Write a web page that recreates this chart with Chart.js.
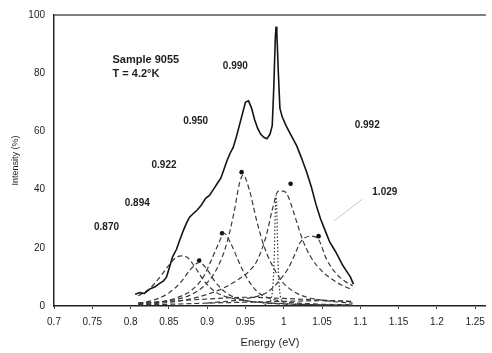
<!DOCTYPE html>
<html>
<head>
<meta charset="utf-8">
<script src="https://cdn.jsdelivr.net/npm/chart.js@4"></script>
<style>
  html, body { margin: 0; padding: 0; background: #fff; }
  #wrap { width: 492px; height: 353px; }
</style>
</head>
<body>
<div id="wrap"><canvas id="spectrum"></canvas></div>
<script>
  // tick labels
  const xTicks = [0.7, 0.75, 0.8, 0.85, 0.9, 0.95, 1, 1.05, 1.1, 1.15, 1.2, 1.25];
  const yTicks = [0, 20, 40, 60, 80, 100];

  // measured spectrum (solid)
  const mainX = [0.806, 0.812, 0.818, 0.825, 0.832, 0.838, 0.843, 0.847, 0.851, 0.855, 0.86, 0.864, 0.869, 0.873,
    0.877, 0.882, 0.887, 0.892, 0.898, 0.903, 0.908, 0.913, 0.918, 0.922, 0.926, 0.93, 0.934, 0.938, 0.942, 0.946,
    0.95, 0.954, 0.958, 0.962, 0.966, 0.97, 0.974, 0.978, 0.982, 0.985, 0.987, 0.989, 0.99, 0.991, 0.993, 0.995,
    0.998, 1.003, 1.01, 1.017, 1.023, 1.03, 1.036, 1.042, 1.048, 1.054, 1.06, 1.067, 1.072, 1.077, 1.082, 1.087, 1.091];
  const mainY = [4.0, 4.6, 4.3, 5.8, 6.6, 7.8, 8.6, 10, 13.5, 17, 19.5, 22.5, 26, 28.5,
    30.5, 31.8, 33, 34.5, 37, 38, 40, 42, 44, 47, 50, 52.5, 54.5, 58, 62, 66,
    70, 70.5, 68, 64, 61, 59, 58, 57.5, 59, 62, 75, 92, 96, 94, 80, 68,
    65, 62, 58.5, 55, 51, 46, 41, 35, 30, 26, 22, 19, 16.5, 14, 12, 10, 7.5];

  // fitted components (dashed)
  const compAx = [0.81, 0.825, 0.84, 0.85, 0.86, 0.867, 0.875, 0.885, 0.895, 0.91, 0.93, 0.96, 1.0, 1.05, 1.09];
  const compAy = [3.5, 6, 10.5, 14, 16.8, 17.2, 16.5, 13, 9, 5, 2.8, 1.5, 0.8, 0.4, 0.3];

  const compBx = [0.81, 0.83, 0.85, 0.865, 0.878, 0.89, 0.9, 0.91, 0.925, 0.945, 0.97, 1.0, 1.05, 1.09];
  const compBy = [1, 2, 4.5, 8, 12.5, 15, 12.5, 8.5, 4.5, 2.2, 1.2, 0.7, 0.4, 0.3];

  const compCx = [0.81, 0.84, 0.86, 0.88, 0.895, 0.905, 0.915, 0.922, 0.93, 0.94, 0.95, 0.965, 0.98, 1.0, 1.04, 1.09];
  const compCy = [0.8, 1.5, 2.8, 5.5, 10, 15.5, 21.5, 25, 22, 16, 10.5, 5, 2.8, 1.5, 0.7, 0.4];

  const compDx = [0.81, 0.85, 0.88, 0.9, 0.915, 0.925, 0.935, 0.942, 0.947, 0.955, 0.965, 0.975, 0.987, 1.0, 1.02, 1.05, 1.09];
  const compDy = [0.8, 1.8, 4, 8, 14, 21, 32, 42, 45, 40, 29, 20, 13, 7.8, 4, 2, 1];

  const compEx = [0.81, 0.84, 0.87, 0.9, 0.92, 0.94, 0.955, 0.965, 0.977, 0.985, 0.993, 1.0, 1.006, 1.012, 1.018, 1.025, 1.035, 1.05, 1.07, 1.09];
  const compEy = [0.5, 1, 2, 4, 6, 9, 12, 15.5, 24, 33, 39.5, 39.5, 37.5, 33, 28, 22.5, 17, 12, 8, 5.5];

  const compNx = [0.975, 0.983, 0.987, 0.99, 0.993, 0.997, 1.005];
  const compNy = [0.5, 2, 12, 38, 12, 2, 0.5];

  const compFx = [0.9, 0.95, 0.98, 0.995, 1.006, 1.015, 1.022, 1.035, 1.045, 1.056, 1.069, 1.08, 1.09];
  const compFy = [1, 2.5, 5, 9, 13, 18, 22, 24, 23, 16, 11, 8.5, 7];

  const compGx = [0.81, 0.85, 0.9, 0.95, 1.0, 1.05, 1.09];
  const compGy = [1, 1.6, 2.4, 3, 2.6, 2, 1.5];

  const compHx = [0.81, 0.85, 0.9, 0.95, 1.0, 1.05, 1.09];
  const compHy = [0.4, 0.6, 1, 1.3, 1.6, 1.8, 1.6];

  // peak markers
  const markX = [0.8896, 0.9195, 0.945, 1.009, 1.0455];
  const markY = [15.6, 25, 46, 42, 24];

  // text on the plot
  const notes = [
    { text: "Sample 9055", x: 0.7764, y: 84.7, size: 11, align: "left" },
    { text: "T = 4.2°K", x: 0.7764, y: 79.9, size: 11, align: "left" },
    { text: "0.990", x: 0.9368, y: 82.3, size: 10, align: "center" },
    { text: "0.950", x: 0.885, y: 63.6, size: 10, align: "center" },
    { text: "0.922", x: 0.8437, y: 48.3, size: 10, align: "center" },
    { text: "0.894", x: 0.8087, y: 35.4, size: 10, align: "center" },
    { text: "0.870", x: 0.7686, y: 26.9, size: 10, align: "center" },
    { text: "0.992", x: 1.109, y: 62.2, size: 10, align: "center" },
    { text: "1.029", x: 1.132, y: 39.1, size: 10, align: "center" }
  ];

  const pts = (xs, ys) => xs.map((x, i) => ({ x: x, y: ys[i] }));

  const dashed = (xs, ys) => ({
    data: pts(xs, ys),
    borderColor: "#3a3a3a",
    borderWidth: 1.2,
    borderDash: [5, 3],
    pointRadius: 0,
    cubicInterpolationMode: "monotone",
    fill: false
  });

  const notesPlugin = {
    id: "notes",
    afterDatasetsDraw(chart) {
      const { ctx, chartArea, scales } = chart;
      ctx.save();
      // top frame line
      ctx.strokeStyle = "#555";
      ctx.lineWidth = 1.5;
      ctx.beginPath();
      ctx.moveTo(chartArea.left, chartArea.top);
      ctx.lineTo(chartArea.right, chartArea.top);
      ctx.stroke();
      // faint leader to the 1.029 peak
      ctx.strokeStyle = "#c8c8c8";
      ctx.lineWidth = 1;
      ctx.beginPath();
      ctx.moveTo(scales.x.getPixelForValue(1.1025), scales.y.getPixelForValue(36.7));
      ctx.lineTo(scales.x.getPixelForValue(1.066), scales.y.getPixelForValue(29.3));
      ctx.stroke();

      ctx.fillStyle = "#1e1e1e";
      ctx.textBaseline = "middle";
      notes.forEach(n => {
        ctx.font = "bold " + n.size + "px 'Liberation Sans', Arial, sans-serif";
        ctx.textAlign = n.align;
        ctx.fillText(n.text, scales.x.getPixelForValue(n.x), scales.y.getPixelForValue(n.y));
      });
      ctx.restore();
    }
  };

  new Chart(document.getElementById("spectrum"), {
    type: "line",
    data: {
      datasets: [
        {
          data: pts(mainX, mainY),
          borderColor: "#141414",
          borderWidth: 1.6,
          pointRadius: 0,
          tension: 0,
          fill: false
        },
        dashed(compAx, compAy),
        dashed(compBx, compBy),
        dashed(compCx, compCy),
        dashed(compDx, compDy),
        dashed(compEx, compEy),
        Object.assign(dashed(compNx, compNy), { borderDash: [1.5, 2] }),
        dashed(compFx, compFy),
        dashed(compGx, compGy),
        dashed(compHx, compHy),
        {
          data: pts(markX, markY),
          showLine: false,
          pointRadius: 2.3,
          pointBackgroundColor: "#111",
          pointBorderWidth: 0
        }
      ]
    },
    options: {
      responsive: true,
      maintainAspectRatio: false,
      animation: false,
      layout: { padding: { top: 12, right: 2, left: 0, bottom: 0 } },
      plugins: {
        legend: { display: false },
        tooltip: { enabled: false }
      },
      scales: {
        x: {
          type: "linear",
          min: 0.7,
          max: 1.264,
          afterBuildTicks: scale => { scale.ticks = xTicks.map(v => ({ value: v })); },
          afterFit: scale => { scale.height = 47; },
          border: { display: true, color: "#222", width: 1.5 },
          grid: { display: true, drawOnChartArea: false, drawTicks: true, tickLength: 3, color: "#444" },
          ticks: {
            autoSkip: false,
            maxRotation: 0,
            padding: 7,
            color: "#1e1e1e",
            font: { family: "'Liberation Sans', Arial, sans-serif", size: 10 },
            callback: v => String(v)
          },
          title: {
            display: true,
            text: "Energy (eV)",
            color: "#1e1e1e",
            padding: { top: 0, bottom: 3 },
            font: { family: "'Liberation Sans', Arial, sans-serif", size: 11 }
          }
        },
        y: {
          min: 0,
          max: 100,
          afterBuildTicks: scale => { scale.ticks = yTicks.map(v => ({ value: v })); },
          afterFit: scale => { scale.width = 54; },
          border: { display: true, color: "#222", width: 1.5 },
          grid: { display: false, drawTicks: false },
          ticks: {
            padding: 9,
            color: "#1e1e1e",
            font: { family: "'Liberation Sans', Arial, sans-serif", size: 10 }
          },
          title: {
            display: true,
            text: "Intensity (%)",
            color: "#1e1e1e",
            padding: { top: 10, bottom: 0 },
            font: { family: "'Liberation Sans', Arial, sans-serif", size: 9 }
          }
        }
      }
    },
    plugins: [notesPlugin]
  });
</script>
</body>
</html>
